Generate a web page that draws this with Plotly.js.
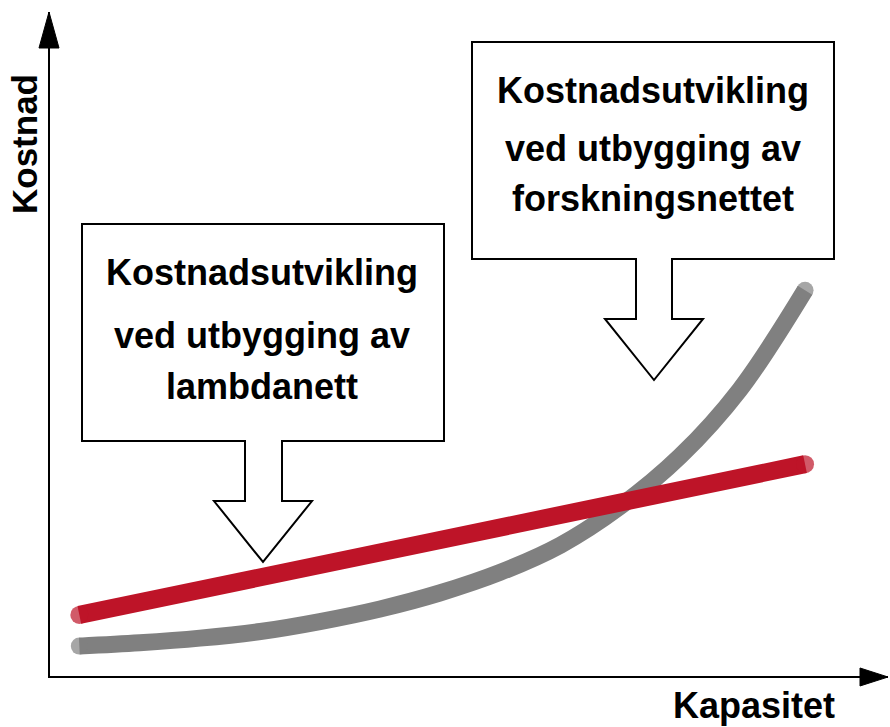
<!DOCTYPE html>
<html>
<head>
<meta charset="utf-8">
<script src="https://cdn.plot.ly/plotly-3.0.1.min.js"></script>
<style>html,body{margin:0;padding:0;background:#fff;}#chart{width:890px;height:727px;}</style>
</head>
<body>
<div id="chart"></div>
<script>
// ---- data (abstract units) ----
var grayX = [0.35, 1.07, 1.79, 2.51, 3.22, 3.94, 4.65, 5.37, 6.09, 6.80, 7.52, 8.23, 9.01];
var grayY = [0.45, 0.50, 0.57, 0.67, 0.82, 1.01, 1.25, 1.56, 1.97, 2.55, 3.31, 4.31, 5.81];
var redX = [0.35, 9.01];
var redY = [0.92, 3.19];
var xTitle = "Kapasitet";
var yTitle = "Kostnad";
var leftBoxLines = ["Kostnadsutvikling", "ved utbygging av", "lambdanett"];
var rightBoxLines = ["Kostnadsutvikling", "ved utbygging av", "forskningsnettet"];

// ---- layout helpers (pixel -> paper) ----
var W = 890, H = 727;
var PL = 50, PR = 888, PT = 12, PB = 676;
function px(x){ return (x - PL) / (PR - PL); }
function py(y){ return (PB - y) / (PB - PT); }
function pathFrom(pts){
  return pts.map(function(p,i){ return (i ? 'L' : 'M') + px(p[0]).toFixed(5) + ',' + py(p[1]).toFixed(5); }).join(' ') + ' Z';
}
function endSizes(n, s){ var a = []; for (var i=0;i<n;i++) a.push((i===0||i===n-1)?s:0); return a; }

var FONT = "Liberation Sans, Arial, Helvetica, sans-serif";

var traces = [
  {x: grayX, y: grayY, mode: 'lines+markers', line: {color: '#808080', width: 17, shape: 'spline', smoothing: 1},
   marker: {color: '#808080', size: endSizes(grayX.length, 17), line: {width: 0}}, hoverinfo: 'skip'},
  {x: redX, y: redY, mode: 'lines+markers', line: {color: '#BE1428', width: 18},
   marker: {color: '#BE1428', size: endSizes(redX.length, 18), line: {width: 0}}, hoverinfo: 'skip'}
];

var leftBox = [[82,224],[444,224],[444,441],[282,441],[282,501],[312,501],[263,562],[214,501],[245,501],[245,441],[82,441]];
var rightBox = [[472,42],[834,42],[834,259],[672,259],[672,319],[703,319],[654,380],[605,319],[636,319],[636,259],[472,259]];

var shapes = [
  {type: 'path', xref: 'paper', yref: 'paper', path: pathFrom(leftBox), fillcolor: '#fff', line: {color: '#000', width: 2}},
  {type: 'path', xref: 'paper', yref: 'paper', path: pathFrom(rightBox), fillcolor: '#fff', line: {color: '#000', width: 2}},
  // axis arrow heads
  {type: 'path', xref: 'paper', yref: 'paper', path: pathFrom([[49,12],[59,48],[39,48]]), fillcolor: '#000', line: {color: '#000', width: 1}},
  {type: 'path', xref: 'paper', yref: 'paper', path: pathFrom([[888,677],[860,668],[860,686]]), fillcolor: '#000', line: {color: '#000', width: 1}}
];

var annotations = [];
var leftYs = [272, 335, 387];
var rightYs = [90, 148, 199];
leftBoxLines.forEach(function(t,i){
  annotations.push({text: '<b>' + t + '</b>', xref: 'paper', yref: 'paper', x: px(262), y: py(leftYs[i]),
    xanchor: 'center', yanchor: 'middle', showarrow: false, font: {family: FONT, size: 36, color: '#000'}});
});
rightBoxLines.forEach(function(t,i){
  annotations.push({text: '<b>' + t + '</b>', xref: 'paper', yref: 'paper', x: px(653), y: py(rightYs[i]),
    xanchor: 'center', yanchor: 'middle', showarrow: false, font: {family: FONT, size: 36, color: '#000'}});
});
annotations.push({text: '<b>' + xTitle + '</b>', xref: 'paper', yref: 'paper', x: px(754), y: py(705),
  xanchor: 'center', yanchor: 'middle', showarrow: false, font: {family: FONT, size: 36, color: '#000'}});
annotations.push({text: '<b>' + yTitle + '</b>', xref: 'paper', yref: 'paper', x: px(24), y: py(144),
  xanchor: 'center', yanchor: 'middle', textangle: -90, showarrow: false, font: {family: FONT, size: 35, color: '#000'}});

var layout = {
  width: W, height: H,
  margin: {l: PL, r: W - PR, t: PT, b: H - PB, pad: 0},
  paper_bgcolor: '#fff', plot_bgcolor: '#fff',
  showlegend: false,
  xaxis: {range: [0, 10], showline: true, linecolor: '#000', linewidth: 2, showgrid: false, zeroline: false,
          showticklabels: false, ticks: '', fixedrange: true},
  yaxis: {range: [0, 10], showline: true, linecolor: '#000', linewidth: 2, showgrid: false, zeroline: false,
          showticklabels: false, ticks: '', fixedrange: true},
  shapes: shapes,
  annotations: annotations
};

Plotly.newPlot('chart', traces, layout, {displayModeBar: false, staticPlot: true});
</script>
</body>
</html>
